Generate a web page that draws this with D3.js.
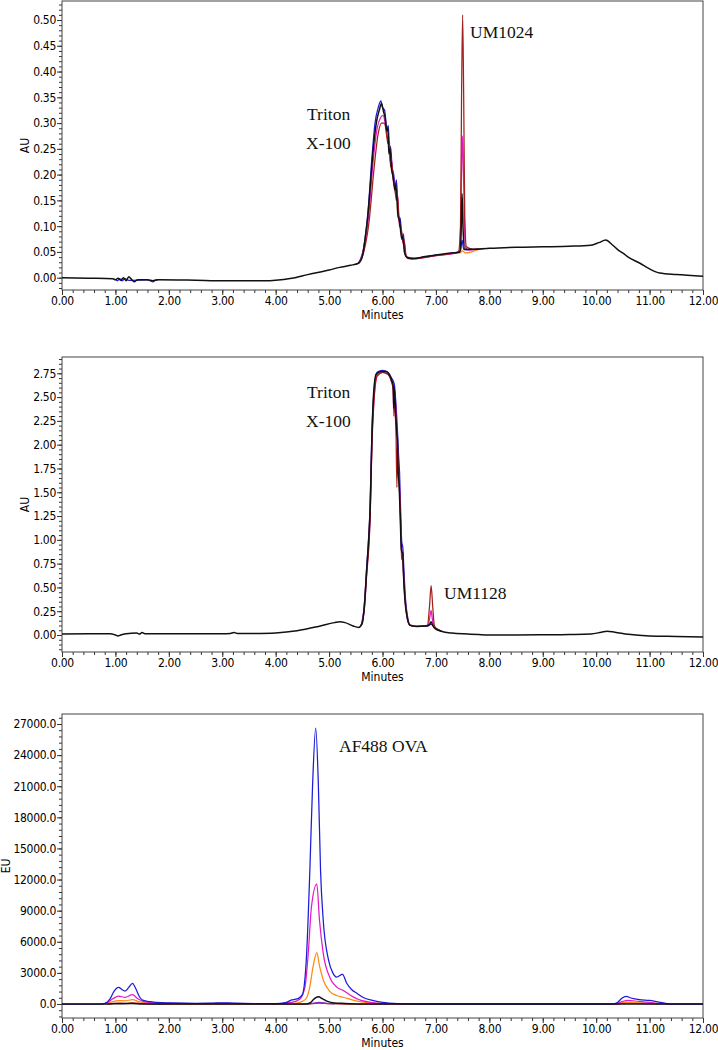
<!DOCTYPE html>
<html>
<head>
<meta charset="utf-8">
<script src="https://cdn.jsdelivr.net/npm/d3@7"></script>
<style>
  body { margin: 0; background: #fff; }
  svg { display: block; }
  .tick text { font-family: "DejaVu Sans Condensed", "DejaVu Sans", sans-serif; font-size: 12px; letter-spacing: -0.3px; fill: #000; }
  .axis-title { font-family: "DejaVu Sans Condensed", "DejaVu Sans", sans-serif; font-size: 12px; fill: #000; }
  .note { font-family: "Liberation Serif", "Times New Roman", serif; font-size: 17.5px; fill: #111; }
</style>
</head>
<body>
<div id="chart-area"></div>
<script>
// ---- data (minutes, signal) ----

// panel 1 : AU, UM1024
const p1Black = [[0,0.000],[0.5,-0.001],[0.95,-0.002],[1.0,-0.004],[1.05,-0.001],[1.1,-0.005],[1.15,0.000],
  [1.2,-0.006],[1.25,0.002],[1.3,-0.003],[1.35,-0.008],[1.42,-0.004],[1.6,-0.004],[1.7,-0.006],[1.8,-0.004],
  [2.5,-0.005],[3.0,-0.006],[3.5,-0.006],[3.8,-0.006],[4.0,-0.005],[4.3,-0.001],[4.6,0.006],[5.0,0.015],
  [5.2,0.020],[5.4,0.024],[5.55,0.028],[5.62,0.040],[5.68,0.080],[5.73,0.125],[5.78,0.19],[5.83,0.253],
  [5.89,0.304],[5.94,0.325],[5.98,0.338],[6.02,0.322],[6.05,0.31],[6.08,0.285],[6.1,0.29],[6.12,0.24],
  [6.14,0.25],[6.17,0.21],[6.2,0.195],[6.23,0.17],[6.25,0.18],[6.29,0.12],[6.32,0.11],[6.36,0.075],
  [6.38,0.08],[6.41,0.05],[6.45,0.04],[6.55,0.037],[6.8,0.041],[7.0,0.044],[7.2,0.047],[7.4,0.049],
  [7.45,0.05],[7.47,0.08],[7.49,0.163],[7.51,0.09],[7.54,0.055],[7.7,0.055],[8.0,0.057],[8.5,0.059],
  [9.0,0.060],[9.5,0.061],[9.9,0.063],[10.05,0.068],[10.18,0.073],[10.3,0.064],[10.42,0.053],[10.51,0.047],
  [10.6,0.040],[10.82,0.028],[11.0,0.017],[11.19,0.009],[11.5,0.006],[12.0,0.003]]
const p1BlueNoise = [[1.0,-0.003],[1.04,-0.006],[1.08,-0.002],[1.12,-0.006],[1.18,-0.002],[1.25,-0.005],
  [1.6,-0.004],[1.7,-0.008],[1.76,-0.004],[1.8,-0.004]]
const p1Blue = [[5.55,0.028],[5.65,0.06],[5.73,0.13],[5.8,0.23],[5.86,0.30],[5.92,0.33],[5.97,0.343],[6.0,0.33],
  [6.04,0.325],[6.08,0.29],[6.11,0.295],[6.13,0.245],[6.15,0.255],[6.18,0.215],[6.21,0.20],[6.24,0.175],
  [6.26,0.19],[6.3,0.12],[6.33,0.115],[6.37,0.078],[6.39,0.085],[6.42,0.05],[6.46,0.04],[6.6,0.038],
  [7.0,0.044],[7.4,0.049],[7.46,0.052],[7.49,0.073],[7.52,0.055],[7.6,0.054],[7.8,0.056]]
const p1Magenta = [[5.55,0.028],[5.65,0.055],[5.74,0.12],[5.82,0.22],[5.9,0.29],[5.96,0.31],[6.01,0.315],
  [6.05,0.30],[6.09,0.27],[6.12,0.275],[6.14,0.225],[6.16,0.235],[6.19,0.2],[6.22,0.185],[6.25,0.16],
  [6.27,0.17],[6.31,0.11],[6.34,0.1],[6.38,0.07],[6.4,0.075],[6.43,0.045],[6.47,0.038],[6.6,0.037],
  [7.0,0.043],[7.4,0.048],[7.45,0.055],[7.48,0.2],[7.5,0.275],[7.52,0.18],[7.55,0.06],[7.6,0.054],[7.8,0.056]]
const p1Red = [[5.55,0.028],[5.65,0.05],[5.75,0.11],[5.84,0.21],[5.92,0.28],[5.98,0.30],[6.03,0.30],
  [6.07,0.285],[6.1,0.26],[6.13,0.265],[6.15,0.215],[6.17,0.225],[6.2,0.19],[6.23,0.175],[6.26,0.15],
  [6.28,0.16],[6.32,0.1],[6.35,0.095],[6.39,0.065],[6.41,0.07],[6.44,0.043],[6.48,0.037],[6.6,0.037],
  [7.0,0.043],[7.3,0.047],[7.42,0.05],[7.46,0.10],[7.48,0.35],[7.5,0.51],[7.52,0.35],[7.54,0.12],
  [7.57,0.06],[7.7,0.055],[7.9,0.057]]
const p1Orange = [[7.2,0.046],[7.45,0.048],[7.5,0.052],[7.55,0.048],[7.8,0.055]]

// panel 2 : AU, UM1128
const p2Black = [[0,0.01],[0.5,0.012],[0.9,0.012],[1.0,0.0],[1.05,-0.01],[1.1,0.0],[1.2,0.012],[1.4,0.02],
  [1.45,0.01],[1.5,0.025],[1.55,0.012],[1.7,0.012],[2.0,0.013],[2.5,0.013],[3.0,0.014],[3.15,0.016],
  [3.22,0.025],[3.3,0.015],[3.6,0.016],[4.0,0.022],[4.4,0.045],[4.8,0.09],[5.1,0.13],[5.2,0.14],[5.3,0.13],
  [5.45,0.095],[5.55,0.08],[5.62,0.12],[5.66,0.30],[5.7,0.65],[5.74,1.0],[5.77,1.35],[5.8,2.05],[5.83,2.5],
  [5.88,2.74],[5.97,2.77],[6.07,2.77],[6.11,2.75],[6.17,2.68],[6.2,2.62],[6.21,2.38],[6.22,2.6],[6.25,2.3],
  [6.27,2.1],[6.28,2.06],[6.29,1.75],[6.31,1.6],[6.33,1.28],[6.35,0.93],[6.36,0.88],[6.38,0.86],[6.39,0.68],
  [6.42,0.37],[6.46,0.19],[6.51,0.105],[6.64,0.09],[6.83,0.095],[6.88,0.11],[6.91,0.14],[6.94,0.10],
  [6.98,0.07],[7.1,0.04],[7.3,0.02],[7.6,0.01],[7.8,0.004],[8.0,0.0],[8.5,0.0],[9.0,0.002],[9.5,0.005],
  [9.9,0.01],[10.1,0.03],[10.2,0.04],[10.35,0.03],[10.6,0.008],[11.0,-0.01],[11.5,-0.015],[12.0,-0.02]]
const p2Blue = [[5.6,0.1],[5.66,0.32],[5.7,0.68],[5.77,1.4],[5.8,2.1],[5.84,2.55],[5.9,2.76],[6.0,2.78],
  [6.1,2.76],[6.17,2.7],[6.22,2.64],[6.26,2.35],[6.28,2.15],[6.3,1.9],[6.32,1.7],[6.34,1.3],[6.36,0.98],
  [6.38,0.92],[6.4,0.7],[6.43,0.38],[6.47,0.19],[6.52,0.1],[6.64,0.09],[6.85,0.095],[6.91,0.115],
  [6.95,0.095],[7.0,0.07],[7.1,0.04]]
const p2Magenta = [[5.6,0.1],[5.66,0.29],[5.7,0.63],[5.77,1.3],[5.8,2.0],[5.84,2.48],[5.9,2.73],[6.0,2.76],
  [6.1,2.74],[6.17,2.66],[6.2,2.6],[6.21,2.3],[6.23,2.55],[6.26,2.25],[6.28,2.0],[6.3,1.7],[6.32,1.55],
  [6.34,1.2],[6.36,0.86],[6.38,0.82],[6.4,0.6],[6.43,0.34],[6.47,0.17],[6.52,0.1],[6.64,0.09],
  [6.85,0.1],[6.89,0.2],[6.91,0.26],[6.93,0.18],[6.96,0.09],[7.0,0.07],[7.1,0.04]]
const p2Red = [[5.6,0.1],[5.66,0.27],[5.7,0.6],[5.77,1.25],[5.8,1.95],[5.84,2.45],[5.9,2.72],[6.0,2.76],
  [6.1,2.74],[6.17,2.66],[6.2,2.58],[6.22,2.4],[6.25,2.2],[6.27,1.55],[6.28,2.0],[6.3,1.65],[6.32,1.5],
  [6.34,1.15],[6.36,0.8],[6.38,0.78],[6.4,0.55],[6.43,0.32],[6.47,0.16],[6.52,0.1],[6.64,0.09],
  [6.84,0.1],[6.88,0.3],[6.91,0.52],[6.94,0.3],[6.97,0.1],[7.0,0.07],[7.1,0.04]]

// panel 3 : EU, AF488 OVA
const p3Blue = [[0,0],[0.75,0],[0.82,100],[0.9,500],[0.97,1200],[1.06,1600],[1.12,1400],[1.18,1250],
  [1.25,1600],[1.32,2000],[1.38,1500],[1.45,700],[1.51,380],[1.65,220],[1.77,160],[2.0,110],[2.5,70],
  [2.8,80],[3.0,120],[3.2,80],[3.6,40],[4.0,30],[4.2,150],[4.3,400],[4.36,450],[4.42,520],[4.5,900],
  [4.58,4890],[4.64,12900],[4.69,20950],[4.75,26600],[4.8,21000],[4.84,12900],[4.89,8100],[4.99,4240],
  [5.07,3000],[5.14,2600],[5.25,2850],[5.33,2000],[5.42,1400],[5.52,1030],[5.65,600],[5.83,320],[6.0,150],
  [6.33,30],[6.6,0],[10.3,0],[10.4,150],[10.48,550],[10.56,730],[10.65,580],[10.81,420],[11.0,340],
  [11.15,200],[11.3,60],[11.4,0],[12,0]]
const p3Magenta = [[0.75,0],[0.85,150],[0.95,500],[1.06,750],[1.18,650],[1.32,900],[1.42,500],[1.55,200],
  [1.8,80],[2.5,40],[3.0,50],[4.0,15],[4.3,150],[4.45,450],[4.55,1670],[4.61,4900],[4.67,9380],
  [4.77,11570],[4.82,8100],[4.89,4900],[5.02,2480],[5.15,1600],[5.27,1290],[5.39,870],[5.6,350],
  [6.0,50],[6.4,0],[10.35,0],[10.5,250],[10.58,350],[10.8,250],[11.0,150],[11.3,0],[12,0]]
const p3Orange = [[0.8,0],[0.9,150],[1.06,330],[1.18,300],[1.32,420],[1.45,200],[1.7,50],[2.2,0],[4.3,30],
  [4.5,250],[4.58,600],[4.64,1670],[4.7,3600],[4.77,4950],[4.82,3700],[4.9,2200],[5.0,1300],[5.15,800],
  [5.27,650],[5.5,300],[5.8,80],[6.2,0],[10.4,0],[10.55,180],[10.8,120],[11.2,0]]
const p3Red = [[0.85,0],[1.05,80],[1.2,70],[1.32,100],[1.6,20],[2.0,0],[4.6,0],[4.8,80],[5.0,30],[5.3,0],
  [10.4,0],[10.56,100],[10.8,60],[11.2,0]]
const p3Purple = [[4.6,0],[4.75,120],[4.82,150],[4.95,60],[5.1,0]]
const p3Black = [[0,0],[0.9,0],[1.05,30],[1.3,40],[1.5,0],[4.55,0],[4.65,120],[4.72,500],[4.8,700],
  [4.88,500],[4.97,250],[5.1,100],[5.3,60],[5.6,0],[12,0]]

const xTickLabels = d3.range(0, 13)   // 0.00 ... 12.00 minutes

// ---- layout ----
const W = 718, H = 1050
const LEFT = 62, RIGHT = 703
const COLORS = { black: "#111", blue: "#1c1cd8", magenta: "#e41bc4", red: "#a3201c", orange: "#ff8a10", purple: "#8a2bd0" }

const svg = d3.select("#chart-area").append("svg")
  .attr("width", W)
  .attr("height", H)
svg.append("rect").attr("width", W).attr("height", H).attr("fill", "#fff")

const x = d3.scaleLinear().domain([0, 12]).range([LEFT, RIGHT])

const panels = [
  { top: 1, bottom: 290, y0: 277.7, yRef: 20, ref: 0.5, major: 0.05, minor: 0.01, fmt: ".2f", label: "AU",
    labelX: 25, minutesY: 319,
    traces: [[p1BlueNoise, "blue"], [p1Orange, "orange"], [p1Blue, "blue"], [p1Magenta, "magenta"], [p1Red, "red"], [p1Black, "black"]],
    notes: [["Triton", 307, 120], ["X-100", 306, 149], ["UM1024", 470, 38]] },
  { top: 357, bottom: 652, y0: 635, yRef: 373.3, ref: 2.75, major: 0.25, minor: 0.05, fmt: ".2f", label: "AU",
    labelX: 25, minutesY: 681,
    traces: [[p2Blue, "blue"], [p2Magenta, "magenta"], [p2Red, "red"], [p2Black, "black"]],
    notes: [["Triton", 307, 398], ["X-100", 306, 427], ["UM1128", 444, 599]] },
  { top: 714, bottom: 1018, y0: 1004, yRef: 724, ref: 27000, major: 3000, minor: 600, fmt: ".1f", label: "EU",
    labelX: 6, minutesY: 1047,
    traces: [[p3Red, "red"], [p3Purple, "purple"], [p3Orange, "orange"], [p3Magenta, "magenta"], [p3Blue, "blue"], [p3Black, "black"]],
    notes: [["AF488 OVA", 339, 752]] }
]

panels.forEach((p, i) => {
  const y = d3.scaleLinear().domain([0, p.ref]).range([p.y0, p.yRef])
  const lo = y.invert(p.bottom), hi = y.invert(p.top)
  const g = svg.append("g")

  // minor + major y ticks
  const yMinor = d3.range(Math.ceil(lo / p.minor), Math.floor(hi / p.minor) + 1).map(k => k * p.minor)
  const yMajor = d3.range(0, Math.floor(hi / p.major + 1e-6) + 1).map(k => k * p.major)
  g.append("g").attr("transform", `translate(${LEFT},0)`)
    .call(d3.axisLeft(y).tickValues(yMinor).tickSize(3).tickFormat(""))
  g.append("g").attr("transform", `translate(${LEFT},0)`)
    .call(d3.axisLeft(y).tickValues(yMajor).tickSize(5).tickPadding(1).tickFormat(d3.format(p.fmt)))

  // x ticks
  const xMinor = d3.range(0, 61).map(k => k / 5)
  g.append("g").attr("transform", `translate(0,${p.bottom})`)
    .call(d3.axisBottom(x).tickValues(xMinor).tickSize(3).tickFormat(""))
  g.append("g").attr("transform", `translate(0,${p.bottom})`)
    .call(d3.axisBottom(x).tickValues(xTickLabels).tickSize(5).tickPadding(1).tickFormat(d3.format(".2f")))

  g.selectAll(".domain").remove()
  g.selectAll(".tick line").attr("stroke", "#333")

  // frame
  g.append("rect")
    .attr("x", LEFT).attr("y", p.top)
    .attr("width", RIGHT - LEFT).attr("height", p.bottom - p.top)
    .attr("fill", "none").attr("stroke", "#444").attr("stroke-width", 1)

  // titles
  g.append("text").attr("class", "axis-title")
    .attr("x", (LEFT + RIGHT) / 2).attr("y", p.minutesY)
    .attr("text-anchor", "middle").text("Minutes")
  g.append("text").attr("class", "axis-title")
    .attr("transform", `translate(${p.labelX},${(p.top + p.bottom) / 2}) rotate(-90)`)
    .attr("text-anchor", "middle").attr("dominant-baseline", "central").text(p.label)

  // traces
  g.append("clipPath").attr("id", "clip" + i)
    .append("rect").attr("x", LEFT).attr("y", p.top).attr("width", RIGHT - LEFT).attr("height", p.bottom - p.top)
  const line = d3.line().x(d => x(d[0])).y(d => y(d[1])).curve(d3.curveMonotoneX)
  p.traces.forEach(([data, c]) => {
    g.append("path").datum(data)
      .attr("clip-path", `url(#clip${i})`)
      .attr("fill", "none")
      .attr("stroke", COLORS[c])
      .attr("stroke-width", c === "black" ? 1.5 : 1.25)
      .attr("stroke-linejoin", "round")
      .attr("d", line)
  })

  // peak annotations
  p.notes.forEach(([t, nx, ny]) => {
    g.append("text").attr("class", "note").attr("x", nx).attr("y", ny).text(t)
  })
})
</script>
</body>
</html>
